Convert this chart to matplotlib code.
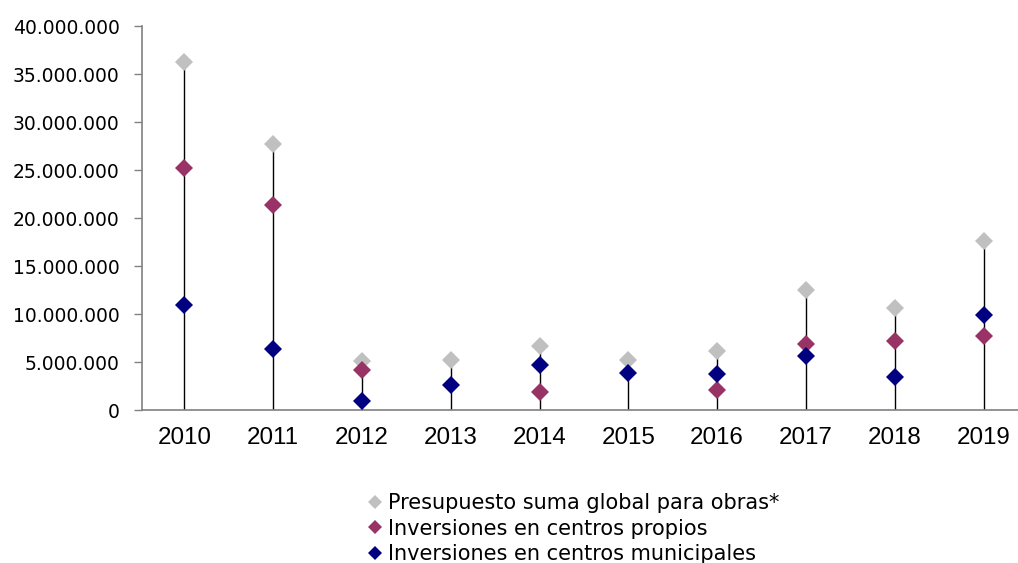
import numpy as np
import matplotlib.pyplot as plt
from matplotlib.ticker import FuncFormatter

plt.rcParams['font.family'] = ['DejaVu Sans']

years = ['2010', '2011', '2012', '2013', '2014', '2015', '2016', '2017', '2018', '2019']
presupuesto = [36.3e6, 27.7e6, 5.2e6, 5.27e6, 6.66e6, 5.27e6, 6.14e6, 12.5e6, 10.66e6, 17.6e6]
propios = [25.2e6, 21.4e6, 4.23e6, np.nan, 1.97e6, np.nan, 2.15e6, 6.9e6, 7.18e6, 7.7e6]
municipales = [11.0e6, 6.39e6, 1.0e6, 2.64e6, 4.68e6, 3.89e6, 3.81e6, 5.69e6, 3.44e6, 9.96e6]

series = [
    ('Presupuesto suma global para obras*', presupuesto, '#C0C0C0'),
    ('Inversiones en centros propios', propios, '#993366'),
    ('Inversiones en centros municipales', municipales, '#000080'),
]

fig = plt.figure(figsize=(10.18, 5.63), dpi=100)
ax = fig.add_axes([0.1392, 0.2709, 0.8688, 0.6829])

x = np.arange(len(years))
tops = np.nanmax(np.array([presupuesto, propios, municipales]), axis=0)
ax.vlines(x, 0, tops, color='black', linewidth=1, zorder=1)

for name, vals, col in series:
    ax.plot(x, vals, linestyle='none', marker='D', markersize=9.5,
            markeredgewidth=0, color=col, label=name, zorder=3)

ax.set_xlim(-0.48, 9.48)
ax.set_ylim(0, 40e6)
ax.set_yticks(np.arange(0, 40e6 + 1, 5e6))
ax.yaxis.set_major_formatter(FuncFormatter(lambda v, p: f'{int(v):,}'.replace(',', '.')))
ax.set_xticks(x)
ax.set_xticklabels(years, family='Liberation Sans')

for s in ['top', 'right']:
    ax.spines[s].set_visible(False)
for s in ['left', 'bottom']:
    ax.spines[s].set_color('#808080')
    ax.spines[s].set_linewidth(1.2)
ax.tick_params(axis='y', length=6, width=1, color='#808080', labelsize=13.5, pad=10)
ax.tick_params(axis='x', length=0, labelsize=17.4, pad=12)

fig.legend(loc='upper left', bbox_to_anchor=(0.361, 0.1245), frameon=False,
           fontsize=15, handlelength=0.72, handletextpad=0.25, labelspacing=0.27,
           markerscale=0.8, borderpad=0, borderaxespad=0)

fig.savefig('out.png', dpi=100)
